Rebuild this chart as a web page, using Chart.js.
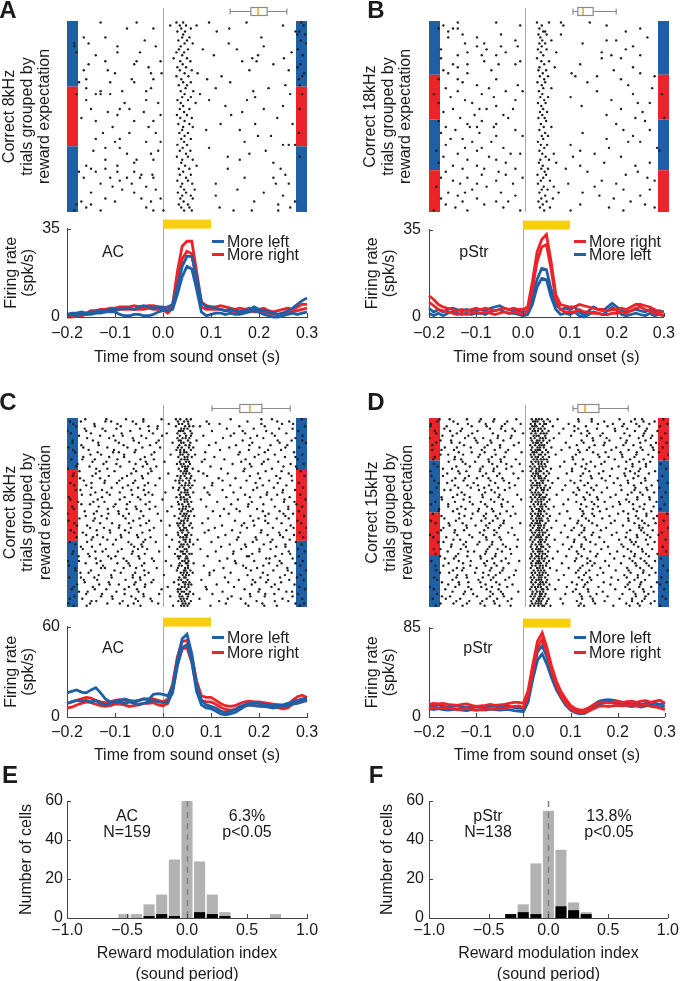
<!DOCTYPE html>
<html>
<head>
<meta charset="utf-8">
<script src="https://cdn.jsdelivr.net/npm/chart.js@4.4.0/dist/chart.umd.min.js"></script>
<style>
  body { margin: 0; background: #fff; overflow: hidden; }
  #fig { position: relative; width: 682px; height: 985px; font-family: "Liberation Sans", Arial, sans-serif; color: #1a1a1a; }
  #fig canvas { position: absolute; }
  .txt { position: absolute; font-size: 16px; line-height: 16px; white-space: nowrap; transform: translate(-50%, -50%); }
  .letter { position: absolute; font-size: 24px; line-height: 24px; font-weight: bold; transform: translate(-50%, -50%); }
  .leg { position: absolute; font-size: 16px; line-height: 16px; white-space: nowrap; transform: translateY(-50%); }
  .leg i { display: inline-block; width: 12px; height: 3px; margin-right: 3px; vertical-align: 4px; }
</style>
</head>
<body>
<div id="fig"></div>
<script>
// ---- data ----
const psthTimesMs = [-200, -190, -180, -170, -160, -150, -140, -130, -120, -110, -100, -90, -80, -70, -60, -50, -40, -30, -20, -10,
  0, 10, 20, 30, 40, 50, 60, 70, 80, 90, 100, 110, 120, 130, 140, 150, 160, 170, 180, 190,
  200, 210, 220, 230, 240, 250, 260, 270, 280, 290, 300];

// A: AC, 8kHz
const aLeftUpper = [1, 1.5, 1.5, 2, 1.5, 2, 2, 2.5, 2.5, 3, 3, 3, 3.5, 3.5, 3, 4, 4.5, 4, 3.5, 4, 3.5, 4, 5, 12, 20, 24, 24, 16, 6, 4, 4, 3.5, 3, 2.5, 3, 2.5, 2, 2.5, 3, 4, 3, 2.5, 2, 1.5, 1, 1.5, 2.5, 3.5, 5, 6.5, 7.5];
const aLeftLower = [0.5, 1, 0.5, 1, 1, 1, 1.5, 1.5, 2, 2, 2, 1, 0.5, 0.5, 1, 1, 0.5, 0.5, 1, 2, 2.5, 2.5, 3, 9, 16, 20, 19, 11, 2, 0.5, 1, 1.5, 1.5, 1, 1.5, 1, 1, 1.5, 2, 2.5, 2, 1, 0.5, 0, 0, 0.5, 1, 1.5, 1, 1.5, 2];
const aRightUpper = [0.5, 0.5, 1, 1, 1.5, 2.5, 2.5, 3, 3, 3.5, 3.5, 4, 4, 4, 4.5, 4, 4, 4.5, 4.5, 4, 4, 2.5, 5, 18, 28, 30, 30, 18, 6, 4.5, 4, 4, 4.5, 4, 3.5, 3, 3.5, 3, 3.5, 3, 3, 3.5, 2.5, 2, 2.5, 3, 3.5, 3, 4, 5, 5];
const aRightLower = [0, 0, 0.5, 0.5, 1, 1.5, 2, 2, 2, 2.5, 2.5, 3, 3, 3, 3, 3, 3, 3.5, 3, 3, 3, 1.5, 3.5, 14, 23, 26, 25, 14, 4, 3, 3, 3, 3, 2.5, 2.5, 2, 2, 2, 2.5, 2, 2, 2, 1.5, 1, 1, 1.5, 2, 2, 2.5, 3, 3.5];

// B: pStr, 18kHz
const bRightUpper = [8.5, 7, 5, 4, 3.5, 3, 2.5, 3, 2.5, 3, 3.5, 3, 3.5, 3, 2.5, 3, 3.5, 3, 3.5, 3, 3, 4, 14, 26, 31, 33, 22, 9, 5, 4.5, 4, 4, 5, 4.5, 4, 3.5, 3, 3, 2.5, 3, 3, 3.5, 3, 4, 5, 5, 4.5, 4, 3, 2, 2];
const bRightLower = [6, 4.5, 3, 2.5, 2, 1.5, 1, 1.5, 1, 1.5, 2, 1.5, 2, 1.5, 1, 1.5, 2, 1.5, 2, 1.5, 1, 2.5, 11, 22, 28, 29, 19, 7, 3, 2, 2, 2, 3, 2, 2, 1.5, 1.5, 1, 1, 1.5, 1.5, 2, 1.5, 2.5, 3.5, 4, 3, 2.5, 1.5, 1, 0.5];
const bLeftUpper = [3.5, 2, 3, 2, 3, 3.5, 3, 2.5, 3, 2.5, 3, 3, 2.5, 3.5, 4, 4.5, 3.5, 3, 3, 2.5, 2, 2.5, 8, 15, 19.5, 19, 11, 5, 3, 3.5, 3, 4, 2, 1, 2.5, 4, 3, 2.5, 4, 5.5, 4, 2.5, 2, 2.5, 3, 2.5, 2, 3, 2, 2.5, 2];
const bLeftLower = [1.5, 0.5, 1.5, 0.5, 1.5, 2, 1.5, 1, 1.5, 1, 1.5, 1.5, 1, 2, 2.5, 3, 2, 1.5, 1.5, 1, 0.5, 1, 5, 12, 15.5, 15, 8, 3, 1, 1.5, 1, 2, 0.5, 0, 1, 2, 1.5, 1, 2.5, 4, 2.5, 1, 0.5, 1, 1.5, 1, 0.5, 1.5, 0.5, 1, 0.5];

// C: AC, 8kHz
const cLeftUpper = [16, 17, 18, 16.5, 16, 18, 19.5, 16, 12, 10, 10, 11, 12, 11, 10.5, 11, 12, 11.5, 15, 15.5, 15, 14, 20, 38, 52, 55, 42, 22, 11, 8, 7, 6, 4, 3, 3.5, 5, 7, 8, 9, 9.5, 9, 8.5, 8, 7.5, 8, 8, 9, 10, 11, 12, 12.5];
const cLeftLower = [9, 10, 11, 10.5, 11, 10, 11, 9, 8, 9, 10, 10, 9, 10, 9, 8.5, 9, 10, 11, 10, 9.5, 10, 16, 34, 46, 48, 37, 17, 8, 6, 5.5, 4, 2, 1.5, 2, 3, 5, 7, 8, 7.5, 7, 7, 6.5, 6, 6.5, 7, 7.5, 8.5, 9, 10, 11];
const cRightUpper = [9, 10, 11, 12, 13, 12.5, 11, 10, 9.5, 10, 11, 11.5, 11, 10.5, 10, 11, 12, 12, 12, 11, 10, 12, 22, 40, 50, 51, 40, 24, 14, 13, 13, 11, 9, 7.5, 7, 7.5, 9, 10, 10.5, 10, 10, 9.5, 9, 8.5, 8, 7.5, 8, 11, 13.5, 14.5, 13];
const cRightLower = [6, 6.5, 8, 9, 10, 9.5, 8.5, 7.5, 7, 7.5, 8.5, 8.5, 8, 7, 7.5, 8, 9, 9, 9.5, 8, 7.5, 9, 18, 35, 45, 46, 36, 20, 11, 10, 10, 8.5, 6.5, 5, 4.5, 5, 6.5, 7.5, 8, 7.5, 7.5, 7, 7, 6.5, 6, 5.5, 6, 8.5, 10.5, 11.5, 10.5];

// D: pStr, 15kHz
const dRightUpper = [12, 13, 12.5, 13, 12, 11.5, 11, 12, 12.5, 11, 10, 10.5, 11, 12, 11, 11.5, 12, 13, 14, 14, 13, 25, 50, 72, 80, 66, 48, 34, 24, 17, 11, 8, 6.5, 7, 9, 12, 14, 14, 13.5, 14, 15, 14, 14.5, 15, 14, 15, 15.5, 14, 15, 16, 13];
const dRightLower = [7, 9, 8, 9, 8.5, 8, 7, 7.5, 8.5, 7.5, 6.5, 7, 7.5, 8, 7.5, 8, 8.5, 9.5, 10, 10.5, 9, 20, 44, 66, 74, 61, 44, 30, 20, 13, 8, 5, 4, 4.5, 6, 8, 10, 10.5, 10, 10.5, 11, 10.5, 11, 11.5, 10.5, 11, 11.5, 10, 9.5, 8.5, 7];
const dLeftUpper = [11, 10, 11.5, 10, 9.5, 10, 10.5, 9.5, 9, 10, 9.5, 10, 9.5, 10.5, 10, 9.5, 10, 10, 9, 8.5, 8, 18, 42, 62, 68, 57, 42, 30, 21, 14, 9, 6, 4.5, 5, 8, 12, 15, 16, 16.5, 16, 15, 14, 13, 12.5, 13, 12, 13, 14, 13, 12, 13.5];
const dLeftLower = [8, 7, 8, 7, 6.5, 7, 7.5, 6.5, 6, 7, 6.5, 7, 6.5, 7.5, 7, 6.5, 7, 7, 6, 5.5, 5, 14, 36, 54, 60, 50, 37, 26, 18, 11, 6.5, 4, 3, 3.5, 6, 9.5, 12, 13.5, 14, 13.5, 12.5, 11.5, 10.5, 10, 10.5, 9.5, 10.5, 11.5, 10.5, 9.5, 10.5];

// raster spike times (ms), one string per trial, top to bottom
const rasterA = [
  "-130 -55 28 42 96 174 288", "15 35 48 70 250 293", "-75 -20 38 58 138", "30 46 112 276 284", "42 280 296",
  "-165 -120 40 55 205", "-38 32 50 287", "-185 -155 45 62 137 299", "-185 -95 -15 37 210", "33 52 83 154 281",
  "-180 -95 -48 28 44 268", "-140 40 106 198 291", "22 50 186 252", "-120 -55 -5 36 57 165 195", "-155 -60 41 230 286",
  "-30 30 48 280", "-165 -115 35 60 180 262", "-100 -25 -3 45 72 294", "28 53 122 290", "-160 -65 -20 38 92 283",
  "-175 -110 -60 42 58 140", "33 50 255 285", "-160 -25 47 110 220", "-130 -85 -35 37 63 188", "-180 -140 -130 -110 45 77 265 290",
  "40 58 192", "-160 -35 30 52 96 175", "-80 -10 37 68", "42 130 250", "-150 -90 -70 35 55 210 285",
  "-115 -40 44 165", "-95 -5 29 50 142", "-170 36 60 238", "-140 -60 -20 45", "32 55 120 192 270",
  "-105 -30 42 62", "40 90 160", "-125 -70 -15 34 52 283", "45 198 225", "-140 -90 38 58",
  "-100 -35 -5 44 170", "30 50 250 262 275", "-120 -90 41 96", "-145 -10 35 57 214", "-75 -25 48 180",
  "29 52 135 285", "-120 -55 -20 40 62 160", "-60 38 230", "-160 -95 46 70", "-150 -120 33 55 135 245",
  "-175 -140 -95 -60 42", "-45 -22 35 58 255", "-165 -110 -75 -48 -20 48 170 230", "-90 30 52", "-130 -65 40 61 110 235 262",
  "-105 -35 37", "-85 -15 44 66 155", "-150 -60 31 48 210", "40 58 110 250", "-120 -45 -5 36 62",
  "-170 -100 -25 43 190 275", "-180 -150 33 52 240", "-160 -35 38 55 118 265", "-185 -130 -20 1 44 60 147 185 240"
];
const rasterB = [
  "-140 -60 25 50 75 135", "-170 -10 35 80 170", "-180 -150 -140 30 240", "-160 38 42 210", "-130 -50 28 45 75",
  "-160 -100 32 255", "-20 36 55 170 190", "-125 -85 30 42 120", "-100 -50 -15 35 225", "-175 -80 27 45 210",
  "-120 -40 33 65 160", "-140 -90 -60 38 180 240", "-175 25 160 200", "-85 -10 34 50", "-150 -120 -55 -20 40 115",
  "-140 30 62 225", "-170 -70 28 44 185", "-160 -120 37 97 240", "31 48 105 150 270", "-180 -140 -60 40 200",
  "-130 26 42 130", "-100 -15 35 215", "-165 -75 38 55 265", "-140 -40 -5 29 150", "-190 -90 36 225 285",
  "-155 -65 32 48 95", "-125 -20 40 180", "-180 -110 27 43 235 260", "-60 34 118", "-150 -95 -80 -25 38 200",
  "-170 31 46 245", "-105 -45 36 170", "-135 -35 28 41 230 290", "-180 -90 44 250", "-120 -60 33 190",
  "-165 -115 -100 -65 39 55", "-145 -20 30 205 260", "-175 -95 42 120", "-60 -5 35 48 225", "-155 -130 38 170",
  "-110 -70 27 215 240", "-165 33 46 95", "-125 -90 -45 40 175 275", "-185 -100 30 115 280", "-140 -30 -10 36 60 145",
  "-170 -75 43 100 200", "-120 -60 32 50", "-180 -40 29 65 165 260", "-150 -100 37 115 230", "-130 -85 -20 34 48 85",
  "-165 -55 41 130 235", "-90 -40 26 44 210", "-175 -120 -5 38 255", "-150 -60 33 52 160 270", "-135 -100 -25 27 90 190",
  "-185 -80 39 60 145", "-110 35 47 205 260", "-160 -125 -50 30 70 120", "-140 -20 42 155 240", "-175 -100 34 58 185",
  "-130 -60 -35 28 45 220", "-165 -85 37 115 250", "-145 -45 31 52 175 270", "-190 -120 -10 40 95 205"
];
const rasterC = [
  "-162 -118 -77 -41 -3 27 36 49 58 141 205 227 289", "-194 -171 -120 -108 -63 -41 31 44 52 91 176 238 263",
  "-187 -143 -95 -56 12 33 40 53 96 118 205 248 271", "-181 -142 -88 -30 -11 27 46 55 63 77 159 212 296",
  "-163 -126 -97 -48 -12 38 44 51 133 189 242 270", "-199 -160 -120 -68 -29 33 37 42 57 102 166 215 282",
  "-192 -150 -86 -21 8 30 45 60 148 171 227 257", "-175 -131 -103 -84 -45 -2 35 48 58 84 141 196 233 291",
  "-158 -112 -63 -35 30 41 47 55 125 182 209 276", "-188 -146 -99 -61 -9 33 37 52 70 166 239 268 290",
  "-189 -135 -92 -50 -14 20 38 43 57 110 186 243 298", "-170 -134 -82 -27 34 47 55 96 152 180 224 259",
  "-197 -166 -116 -74 -43 -6 31 39 54 63 138 201 255 284", "-187 -155 -102 -57 28 36 44 58 119 179 219 246",
  "-183 -136 -104 -92 -59 -18 36 44 49 88 160 212 273", "-151 -129 -81 -24 16 36 41 53 67 157 199 233 290",
  "-166 -112 -81 -38 32 45 51 60 107 191 254 276", "-191 -168 -142 -95 -47 -19 38 45 51 87 128 172 219 281",
  "-147 -118 -70 -36 3 35 48 54 81 163 210 240", "-178 -124 -97 -57 -33 29 37 43 56 145 181 206 266 293",
  "-181 -153 -89 -42 -14 40 46 52 99 184 251 277", "-198 -139 -116 -61 -26 33 46 50 62 121 170 227 279",
  "-174 -132 -101 -56 -24 37 45 50 74 168 214 247 287", "-186 -140 -66 -31 11 42 48 55 84 135 198 262",
  "-188 -147 -113 -75 -44 30 37 45 59 92 181 236 268 295", "-173 -131 -85 -42 -7 36 49 57 116 151 202 244",
  "-165 -121 -91 -58 26 34 41 54 66 124 174 221 269", "-193 -149 -122 -96 -62 -31 34 47 55 103 193 239 283",
  "-185 -160 -73 -38 -16 39 46 53 61 102 140 208 257", "-149 -107 -84 -52 21 34 44 57 86 162 196 231 292",
  "-182 -172 -127 -66 -40 32 46 51 124 188 250 275", "-141 -117 -90 -30 5 38 45 51 63 93 147 217 249",
  "-169 -151 -111 -64 -37 -22 35 48 53 97 171 216 238 286", "-196 -127 -80 -52 28 37 43 56 132 181 203 264",
  "-193 -136 -90 -47 -1 37 45 50 79 156 226 253 297", "-177 -145 -122 -69 -28 31 45 51 59 113 185 252 274",
  "-170 -152 -99 -75 -36 33 40 53 142 178 209 278", "-189 -134 -103 -57 -16 18 42 48 55 90 177 233 261 290",
  "-186 -115 -76 -55 -28 34 41 47 62 127 153 196 261", "-163 -138 -93 -46 9 39 52 58 104 160 208 243 283",
  "-199 -144 -114 -92 -71 -11 36 44 49 137 220 251 271", "-161 -128 -83 -41 24 41 47 54 65 119 182 213 255 294",
  "-174 -142 -117 -78 -49 33 46 52 94 199 237 262", "-197 -145 -62 -29 -4 38 43 51 150 188 213 280",
  "-185 -131 -106 -71 -35 30 36 44 58 82 169 219 247 288", "-179 -158 -91 -47 14 32 42 55 123 164 190 266",
  "-152 -123 -92 -67 -19 35 44 48 61 108 175 229 272 299", "-192 -138 -111 -79 -28 37 42 50 95 144 205 257",
  "-185 -167 -110 -71 -43 31 40 53 87 161 204 242 285", "-160 -137 -88 -54 7 32 46 50 59 130 218 244 273",
  "-180 -146 -125 -87 -52 -26 36 42 49 115 157 193 250 292", "-149 -116 -98 -37 19 43 47 56 72 154 195 228 264",
  "-194 -158 -72 -41 -15 34 47 56 101 187 224 277", "-183 -131 -104 -66 -45 38 43 51 63 139 171 210 255 289",
  "-171 -148 -60 -43 13 35 41 54 121 173 236 255", "-167 -119 -86 -52 -33 30 45 49 78 163 201 224 281",
  "-187 -141 -126 -94 -63 -8 37 41 50 110 147 201 262 295", "-189 -156 -65 -38 25 42 46 55 60 146 186 248 265",
  "-176 -153 -114 -99 -51 31 36 49 93 175 179 234 283", "-140 -108 -82 -49 -23 33 47 51 134 215 222 270",
  "-198 -175 -130 -76 -19 6 40 45 53 118 150 190 243 291", "-161 -138 -95 -72 -39 35 48 51 64 152 221 247 276",
  "-196 -125 -69 -44 17 33 39 52 85 167 209 238 286", "-183 -129 -121 -82 -56 -13 31 46 52 126 173 196 259",
  "-182 -150 -101 -39 29 44 47 57 106 183 230 260 298", "-172 -155 -88 -58 -30 37 43 50 62 97 141 208 268",
  "-134 -108 -63 -38 2 41 48 54 97 176 218 254 287", "-195 -171 -143 -107 -63 -48 34 44 47 129 203 244 279",
  "-165 -137 -78 -47 -20 32 38 51 80 158 187 219 263 293", "-163 -113 -57 -24 23 42 47 55 136 192 215 246",
  "-179 -133 -111 -92 -60 -37 33 46 53 59 112 185 233 274", "-186 -146 -71 -38 10 39 45 53 89 148 226 284",
  "-190 -142 -118 -80 -54 -3 31 36 49 91 170 201 241 296", "-175 -157 -97 -51 31 39 44 56 124 199 257 269",
  "-160 -127 -80 -41 -8 35 48 53 63 103 181 213 232 281", "-184 -129 -106 -66 -40 15 34 40 52 143 182 212 270",
  "-194 -168 -105 -57 -26 37 43 50 76 135 162 249 290", "-149 -139 -84 -52 -23 32 39 45 58 117 195 233 261",
  "-197 -152 -116 -90 -61 -10 41 47 54 131 172 207 276 294", "-186 -159 -73 -47 21 38 44 51 99 178 211 237 285"
];
const rasterD = [
  "-178 -157 -121 -92 -64 -18 14 23 29 35 47 68 111 139 197 229 244 288", "-183 -149 -95 -66 -37 17 21 26 39 52 112 139 165 221 247 270",
  "-196 -140 -119 -82 -42 -9 12 21 31 40 44 91 152 183 206 232 259 297", "-197 -163 -111 -80 -48 15 20 24 37 58 103 127 172 203 238 281",
  "-168 -131 -73 -50 -26 11 19 28 33 41 80 111 150 187 213 254", "-188 -156 -134 -99 -41 -21 16 21 27 36 49 103 130 188 229 251 276",
  "-185 -142 -110 -67 -4 13 22 33 39 45 71 117 134 162 207 248 292", "-172 -151 -118 -56 -28 18 24 29 42 96 129 157 218 246 265",
  "-199 -125 -105 -87 -57 -30 12 20 32 37 43 60 141 170 199 237 262 284", "-176 -154 -102 -72 -45 14 25 30 38 51 118 142 176 212 251",
  "-185 -153 -136 -99 -70 -13 17 23 27 34 46 85 122 166 210 240 273 295", "-193 -127 -78 -52 -23 11 21 30 35 40 108 145 164 205 226 262",
  "-167 -142 -113 -84 -52 15 26 31 39 55 93 134 190 241 266 287", "-193 -174 -148 -90 -63 -35 13 22 27 31 44 76 111 129 180 216 245 268",
  "-138 -111 -84 -40 -7 16 19 24 36 48 114 142 168 199 233 279", "-176 -160 -129 -94 -61 12 19 29 33 42 64 106 152 202 232 257 299",
  "-188 -146 -97 -69 -43 14 22 27 37 50 99 155 174 203 228 266", "-191 -147 -133 -76 -51 -19 18 25 33 39 45 100 121 187 219 247 290",
  "-159 -130 -104 -75 -50 13 22 28 35 47 82 137 166 211 238 261", "-190 -124 -68 -39 -11 16 28 34 41 105 128 159 224 252 283",
  "-182 -143 -115 -88 -58 -28 11 20 30 36 43 73 118 146 195 224 252", "-171 -152 -93 -65 -39 15 24 29 38 54 98 126 181 210 240 294",
  "-197 -139 -122 -94 -66 -5 12 23 30 33 46 98 134 163 219 237 271", "-162 -136 -81 -53 -24 17 23 27 39 50 87 121 154 207 229 258",
  "-195 -171 -117 -88 -58 14 21 28 32 44 116 137 177 209 236 286", "-145 -125 -100 -76 -47 -14 19 29 34 41 69 139 160 193 226 250",
  "-189 -152 -128 -72 -44 12 22 34 38 48 95 116 168 214 251 277", "-180 -162 -107 -62 -33 16 25 30 37 57 103 131 185 215 242 297",
  "-146 -120 -98 -75 -21 13 20 25 31 43 84 124 149 199 227 264", "-184 -139 -113 -85 -56 -32 15 26 33 40 52 110 138 171 230 253 280",
  "-168 -155 -96 -70 -42 11 23 35 39 47 78 113 143 201 228 255", "-198 -194 -132 -83 -63 14 21 28 38 101 129 160 222 240 269 293",
  "-141 -126 -89 -53 -16 17 24 30 33 45 66 107 135 189 214 245", "-174 -150 -115 -88 -55 12 21 30 37 42 122 150 178 234 259 285",
  "-173 -128 -71 -46 -8 15 26 33 39 51 90 125 152 211 234 260", "-187 -146 -115 -92 -64 -36 13 22 28 34 46 107 139 166 196 217 274",
  "-196 -160 -109 -83 -49 18 27 34 41 80 117 144 198 225 249 291", "-160 -133 -79 -48 -25 11 20 32 36 44 60 128 152 183 239 268",
  "-179 -141 -124 -96 -69 14 24 29 36 49 115 141 170 226 247 282", "-180 -150 -98 -66 -38 16 29 33 40 88 120 156 205 233 263",
  "-192 -137 -109 -81 -52 -20 12 21 27 33 45 72 122 140 194 215 253 296", "-174 -126 -86 -61 -30 15 26 30 38 52 119 144 176 231 253 275",
  "-168 -137 -112 -82 -57 13 23 29 34 47 94 127 161 215 236 268", "-196 -144 -91 -67 -44 17 25 31 36 49 65 111 133 187 216 244 289",
  "-186 -159 -130 -74 -45 -10 14 22 26 31 43 109 140 179 228 249 272", "-157 -122 -103 -81 -51 11 19 28 33 40 83 118 150 204 238 257",
  "-170 -121 -77 -54 -27 16 27 31 39 55 102 124 169 238 245 298", "-175 -146 -127 -85 -64 12 24 29 35 46 97 123 158 219 242 266",
  "-182 -147 -94 -59 -35 15 21 30 37 42 75 118 142 191 212 248 285", "-198 -141 -116 -87 -64 -22 18 26 30 37 50 113 139 181 233 255 278",
  "-191 -164 -110 -81 -53 13 23 28 33 45 89 124 155 210 234 261", "-149 -135 -80 -50 -15 11 20 31 36 44 62 103 127 196 219 252 293",
  "-181 -170 -123 -95 -68 16 28 33 41 102 136 165 222 231 270", "-153 -128 -99 -69 -46 14 22 30 34 47 79 118 147 201 227 256",
  "-154 -123 -74 -40 -17 12 25 34 38 51 97 117 173 205 236 287", "-190 -176 -134 -78 -57 -31 15 23 28 32 43 92 123 159 214 244 265",
  "-161 -119 -106 -81 -48 17 27 31 36 48 68 108 136 192 221 245 294", "-186 -139 -83 -61 -29 13 21 30 37 42 111 151 177 229 252 276",
  "-177 -144 -120 -93 -62 14 24 28 35 46 86 118 148 206 228 258", "-167 -148 -92 -68 -40 11 20 29 35 41 58 107 130 186 218 241 283",
  "-195 -138 -113 -79 -49 -12 16 26 30 39 50 104 136 167 224 249 271", "-159 -129 -85 -64 -34 13 23 28 33 45 77 130 145 200 230 253",
  "-187 -170 -114 -82 -59 15 22 31 37 44 120 140 175 232 258 288", "-142 -128 -101 -70 -45 12 25 30 37 52 91 115 157 213 240 264",
  "-185 -150 -131 -73 -47 -19 18 27 33 40 66 111 134 189 216 247 297", "-177 -158 -104 -87 -52 14 21 30 37 43 106 127 163 220 246 272",
  "-141 -122 -76 -61 -23 16 26 31 36 48 81 123 151 207 235 259", "-189 -143 -121 -88 -66 -33 12 19 29 34 42 112 135 180 212 235 284",
  "-183 -151 -97 -71 -41 15 24 29 34 46 70 119 138 194 228 250", "-173 -138 -118 -93 -60 13 22 32 37 44 98 130 164 218 242 275 295",
  "-160 -137 -82 -53 -26 17 28 32 39 51 108 125 178 214 240 281", "-199 -145 -118 -91 -69 -37 14 21 27 33 45 87 122 153 209 238 263",
  "-190 -166 -112 -80 -55 11 23 35 38 47 63 106 131 188 218 246 290", "-151 -125 -72 -50 -14 16 25 31 38 100 132 162 226 248 268",
  "-183 -128 -108 -67 -46 15 22 31 35 43 84 114 149 203 230 257", "-173 -156 -100 -73 -44 12 20 30 33 41 118 136 172 231 251 286",
  "-192 -165 -135 -80 -58 -28 17 27 30 37 49 74 119 141 197 223 249 293", "-143 -116 -89 -65 -36 13 24 29 34 46 108 142 166 223 244 270",
  "-176 -149 -121 -93 -63 15 22 28 33 44 79 116 146 211 235 262", "-186 -130 -84 -53 -30 11 19 28 36 40 53 112 123 184 218 239 282"
];

// trial groups (number of trials per block, top to bottom)
const groupsA = [22, 20, 22];
const groupsB = [18, 15, 17, 14];
const groupsC = [22, 30, 28];
const groupsD = [18, 22, 18, 22];

// boxplots above rasters (s): whisker low, q1, median, q3, whisker high
const boxA = [0.14, 0.183, 0.198, 0.217, 0.258];
const boxB = [0.10, 0.11, 0.121, 0.142, 0.19];
const boxC = [0.102, 0.16, 0.181, 0.206, 0.265];
const boxD = [0.10, 0.11, 0.125, 0.154, 0.215];

// histograms (19 bins over -1..1)
const histBinCenters = [-0.947, -0.842, -0.737, -0.632, -0.526, -0.421, -0.316, -0.211, -0.105, 0, 0.105, 0.211, 0.316, 0.421, 0.526, 0.632, 0.737, 0.842, 0.947];
const histAcAll = [0, 0, 0, 0, 2, 2, 7, 12, 30, 60, 29, 12, 3, 0, 0, 0, 2, 0, 0];
const histAcSig = [0, 0, 0, 0, 0, 0, 1, 2, 1, 0, 3, 2, 1, 0, 0, 0, 0, 0, 0];
const histStrAll = [0, 0, 0, 0, 0, 0, 2, 7, 28, 55, 35, 8, 3, 0, 0, 0, 0, 0, 0];
const histStrSig = [0, 0, 0, 0, 0, 0, 2, 3, 2, 0, 6, 4, 2, 0, 0, 0, 0, 0, 0];

// ---- styles ----
const BLUE = '#1f5fa6';
const RED = '#ec2328';
const YELLOW = '#f8cf0c';
const AXIS = '#444';
const GREYLINE = '#a8a8a8';

Chart.defaults.font.family = '"Liberation Sans", Arial, sans-serif';
Chart.defaults.font.size = 16;
Chart.defaults.color = '#1a1a1a';

const fig = document.getElementById('fig');

function mkCanvas(l, t, w, h) {
  const c = document.createElement('canvas');
  c.width = w; c.height = h;
  c.style.left = l + 'px'; c.style.top = t + 'px';
  c.style.width = w + 'px'; c.style.height = h + 'px';
  fig.appendChild(c);
  return c;
}

function addText(cls, html, x, y) {
  const d = document.createElement('div');
  d.className = cls;
  d.innerHTML = html;
  d.style.left = x + 'px'; d.style.top = y + 'px';
  fig.appendChild(d);
}

function addLegend(x, y, color, label) {
  addText('leg', '<i style="background:' + color + '"></i>' + label, x, y);
}

const fmt1 = v => (Math.round(v * 10) / 10).toFixed(1).replace('-', '\u2212');

// inward tick marks on both axes
const inTicks = {
  id: 'inTicks',
  afterDraw(chart) {
    const { ctx, chartArea: a, scales: { x, y } } = chart;
    ctx.save();
    ctx.strokeStyle = AXIS; ctx.lineWidth = 1;
    ctx.beginPath();
    x.ticks.forEach(t => {
      const px = Math.round(x.getPixelForValue(t.value)) + 0.5;
      ctx.moveTo(px, a.bottom); ctx.lineTo(px, a.bottom - 4);
    });
    y.ticks.forEach(t => {
      const py = Math.round(y.getPixelForValue(t.value)) + 0.5;
      ctx.moveTo(a.left, py); ctx.lineTo(a.left + 4, py);
    });
    ctx.stroke();
    ctx.restore();
  }
};

// colour blocks, onset line and boxplot for rasters
const rasterDecor = {
  id: 'rasterDecor',
  beforeDatasetsDraw(chart, args, o) {
    const { ctx, chartArea: a, scales: { x, y } } = chart;
    ctx.save();
    const x0 = Math.round(x.getPixelForValue(0)) + 0.5;
    ctx.strokeStyle = GREYLINE; ctx.lineWidth = 1;
    ctx.beginPath(); ctx.moveTo(x0, a.top - 13); ctx.lineTo(x0, a.bottom); ctx.stroke();
    let start = 0;
    o.groups.forEach((n, i) => {
      const y0 = y.getPixelForValue(start), y1 = y.getPixelForValue(start + n);
      ctx.fillStyle = o.colors[i];
      ctx.fillRect(a.left, y0, 11, y1 - y0);
      ctx.fillRect(a.right - 11, y0, 11, y1 - y0);
      start += n;
    });
    ctx.restore();
  },
  afterDraw(chart, args, o) {
    const { ctx, chartArea: a, scales: { x } } = chart;
    const b = o.box.map(v => x.getPixelForValue(v));
    const yc = a.top - 9.5;
    ctx.save();
    ctx.strokeStyle = '#8a8a8a'; ctx.lineWidth = 1.2;
    ctx.beginPath();
    ctx.moveTo(b[0], yc); ctx.lineTo(b[1], yc);
    ctx.moveTo(b[3], yc); ctx.lineTo(b[4], yc);
    ctx.moveTo(b[0], yc - 3); ctx.lineTo(b[0], yc + 3);
    ctx.moveTo(b[4], yc - 3); ctx.lineTo(b[4], yc + 3);
    ctx.stroke();
    ctx.fillStyle = '#fff';
    ctx.fillRect(b[1], yc - 4, b[3] - b[1], 8);
    ctx.strokeRect(b[1], yc - 4, b[3] - b[1], 8);
    ctx.strokeStyle = '#f0a020'; ctx.lineWidth = 1.5;
    ctx.beginPath(); ctx.moveTo(b[2], yc - 3.5); ctx.lineTo(b[2], yc + 3.5); ctx.stroke();
    ctx.restore();
  }
};

// sound bar and onset line for PSTHs
const psthDecor = {
  id: 'psthDecor',
  beforeDatasetsDraw(chart) {
    const { ctx, chartArea: a, scales: { x } } = chart;
    const x0 = Math.round(x.getPixelForValue(0)) + 0.5;
    ctx.save();
    ctx.strokeStyle = GREYLINE; ctx.lineWidth = 1;
    ctx.beginPath(); ctx.moveTo(x0, a.top - 9); ctx.lineTo(x0, a.bottom); ctx.stroke();
    ctx.fillStyle = YELLOW;
    ctx.fillRect(x.getPixelForValue(0), a.top - 9, x.getPixelForValue(0.1) - x.getPixelForValue(0), 9);
    ctx.restore();
  }
};

// dashed zero line for histograms
const zeroDash = {
  id: 'zeroDash',
  afterDatasetsDraw(chart) {
    const { ctx, chartArea: a, scales: { x } } = chart;
    const x0 = Math.round(x.getPixelForValue(0)) + 0.5;
    ctx.save();
    ctx.strokeStyle = '#808080'; ctx.lineWidth = 1.5; ctx.setLineDash([6, 5]);
    ctx.beginPath(); ctx.moveTo(x0, a.top); ctx.lineTo(x0, a.bottom); ctx.stroke();
    ctx.restore();
  }
};

function raster(cv, rows, groups, colors, box, title, o) {
  const pts = [];
  rows.forEach((r, i) => r.split(' ').forEach(t => pts.push({ x: +t / 1000, y: i + 0.5 })));
  new Chart(cv, {
    type: 'scatter',
    data: { datasets: [{ data: pts, pointRadius: 1.2, pointBorderWidth: 0, pointBackgroundColor: '#1e1e1e' }] },
    options: {
      responsive: false, animation: false, events: [],
      layout: { padding: { top: o.padTop, right: o.padRight, bottom: o.padBottom, left: 0 } },
      plugins: { legend: { display: false }, tooltip: { enabled: false }, rasterDecor: { groups, colors, box } },
      scales: {
        x: { type: 'linear', min: -0.2, max: 0.3, display: false },
        y: {
          type: 'linear', min: 0, max: rows.length, reverse: true,
          ticks: { display: false }, grid: { display: false, drawTicks: false }, border: { display: false },
          title: { display: true, text: title, font: { size: 16, lineHeight: 1.1 }, padding: { top: o.titlePad, bottom: 0 } },
          afterFit: s => { s.width = o.axisW; }
        }
      }
    },
    plugins: [rasterDecor]
  });
}

function psth(cv, lines, ymax, o) {
  new Chart(cv, {
    type: 'line',
    data: {
      datasets: lines.map(l => ({
        data: psthTimesMs.map((t, i) => ({ x: t / 1000, y: l.values[i] })),
        borderColor: l.color, borderWidth: 2.8, pointRadius: 0, tension: 0, fill: false, clip: false
      }))
    },
    options: {
      responsive: false, animation: false, events: [],
      layout: { padding: { top: o.padTop, right: o.padRight, bottom: 0, left: 0 } },
      plugins: { legend: { display: false }, tooltip: { enabled: false } },
      scales: {
        x: {
          type: 'linear', min: -0.2, max: 0.3,
          ticks: { stepSize: 0.1, padding: o.xTickPad, maxRotation: 0, callback: fmt1 },
          grid: { display: false, drawTicks: false }, border: { color: AXIS },
          title: { display: true, text: 'Time from sound onset (s)', padding: { top: 0, bottom: o.xTitlePad } },
          afterFit: s => { s.height = o.xAxisH; }
        },
        y: {
          type: 'linear', min: 0, max: ymax,
          afterBuildTicks: s => { s.ticks = [{ value: 0 }, { value: ymax }]; },
          ticks: { padding: o.yTickPad },
          grid: { display: false, drawTicks: false }, border: { color: AXIS },
          title: { display: true, text: ['Firing rate', '(spk/s)'], font: { size: 16, lineHeight: 1.05 }, padding: { top: o.yTitlePad, bottom: 0 } },
          afterFit: s => { s.width = o.axisW; }
        }
      }
    },
    plugins: [psthDecor, inTicks]
  });
}

function hist(cv, all, sig, o) {
  new Chart(cv, {
    type: 'bar',
    data: {
      datasets: [
        { data: histBinCenters.map((c, i) => ({ x: c, y: sig[i] })), backgroundColor: '#000' },
        { data: histBinCenters.map((c, i) => ({ x: c, y: all[i] })), backgroundColor: '#b2b2b2' }
      ]
    },
    options: {
      responsive: false, animation: false, events: [],
      datasets: { bar: { grouped: false, barPercentage: 0.88, categoryPercentage: 1 } },
      layout: { padding: { top: o.padTop, right: o.padRight, bottom: 0, left: 0 } },
      plugins: { legend: { display: false }, tooltip: { enabled: false } },
      scales: {
        x: {
          type: 'linear', min: -1, max: 1, offset: false,
          ticks: { stepSize: 0.5, padding: o.xTickPad, maxRotation: 0, callback: fmt1 },
          grid: { display: false, drawTicks: false, offset: false }, border: { color: AXIS },
          title: { display: true, text: ['Reward modulation index', '(sound period)'], font: { size: 16, lineHeight: 1.3 }, padding: { top: 0, bottom: o.xTitlePad } },
          afterFit: s => { s.height = o.xAxisH; }
        },
        y: {
          type: 'linear', min: 0, max: 60,
          ticks: { stepSize: 10, padding: o.yTickPad },
          grid: { display: false, drawTicks: false }, border: { color: AXIS },
          title: { display: true, text: 'Number of cells', padding: { top: o.yTitlePad, bottom: 0 } },
          afterFit: s => { s.width = o.axisW; }
        }
      }
    },
    plugins: [zeroDash, inTicks]
  });
}

// ---- panel A ----
raster(mkCanvas(0, 0, 341, 216), rasterA, groupsA, [BLUE, RED, BLUE], boxA,
  ['Correct 8kHz', 'trials grouped by', 'reward expectation'],
  { padTop: 21, padRight: 34, padBottom: 3, axisW: 67, titlePad: 1 });
psth(mkCanvas(0, 212, 341, 160), [
  { color: BLUE, values: aLeftUpper }, { color: BLUE, values: aLeftLower },
  { color: RED, values: aRightUpper }, { color: RED, values: aRightLower }
], 35, { padTop: 15, padRight: 34, axisW: 67, xAxisH: 55, xTickPad: 7, xTitlePad: 5, yTickPad: 7, yTitlePad: 3.5 });

// ---- panel B ----
raster(mkCanvas(341, 0, 341, 216), rasterB, groupsB, [BLUE, RED, BLUE, RED], boxB,
  ['Correct 18kHz', 'trials grouped by', 'reward expectation'],
  { padTop: 21, padRight: 13, padBottom: 3, axisW: 88, titlePad: 21 });
psth(mkCanvas(341, 212, 341, 160), [
  { color: RED, values: bRightUpper }, { color: RED, values: bRightLower },
  { color: BLUE, values: bLeftUpper }, { color: BLUE, values: bLeftLower }
], 35, { padTop: 15, padRight: 13, axisW: 88, xAxisH: 55, xTickPad: 7, xTitlePad: 5, yTickPad: 8, yTitlePad: 23.5 });

// ---- panel C ----
raster(mkCanvas(0, 395, 341, 216), rasterC, groupsC, [BLUE, RED, BLUE], boxC,
  ['Correct 8kHz', 'trials grouped by', 'reward expectation'],
  { padTop: 23, padRight: 34, padBottom: 2, axisW: 67, titlePad: 1.5 });
psth(mkCanvas(0, 610, 341, 160), [
  { color: BLUE, values: cLeftUpper }, { color: BLUE, values: cLeftLower },
  { color: RED, values: cRightUpper }, { color: RED, values: cRightLower }
], 60, { padTop: 15, padRight: 34, axisW: 67, xAxisH: 53, xTickPad: 6, xTitlePad: 5, yTickPad: 7, yTitlePad: 3.5 });

// ---- panel D ----
raster(mkCanvas(341, 395, 341, 216), rasterD, groupsD, [RED, BLUE, RED, BLUE], boxD,
  ['Correct 15kHz', 'trials grouped by', 'reward expectation'],
  { padTop: 23, padRight: 13, padBottom: 2, axisW: 88, titlePad: 23 });
psth(mkCanvas(341, 610, 341, 160), [
  { color: RED, values: dRightUpper }, { color: RED, values: dRightLower },
  { color: BLUE, values: dLeftUpper }, { color: BLUE, values: dLeftLower }
], 85, { padTop: 15, padRight: 13, axisW: 88, xAxisH: 53, xTickPad: 6, xTitlePad: 5, yTickPad: 8, yTitlePad: 23.5 });

// ---- panels E, F ----
hist(mkCanvas(0, 785, 341, 200), histAcAll, histAcSig,
  { padTop: 16, padRight: 34, axisW: 67, xAxisH: 67, xTickPad: 3, xTitlePad: 0.5, yTickPad: 4, yTitlePad: 17 });
hist(mkCanvas(341, 785, 341, 200), histStrAll, histStrSig,
  { padTop: 16, padRight: 13, axisW: 88, xAxisH: 67, xTickPad: 3, xTitlePad: 0.5, yTickPad: 5, yTitlePad: 37 });

// ---- text ----
addText('letter', 'A', 8, 10); addText('letter', 'B', 376, 10);
addText('letter', 'C', 8, 402); addText('letter', 'D', 376, 402);
addText('letter', 'E', 10, 775); addText('letter', 'F', 376, 775);

addText('txt', 'AC', 113, 252); addText('txt', 'pStr', 474, 252);
addText('txt', 'AC', 113, 648); addText('txt', 'pStr', 478, 648);
addLegend(212, 242, BLUE, 'More left'); addLegend(212, 255, RED, 'More right');
addLegend(574, 242, RED, 'More right'); addLegend(574, 255, BLUE, 'More left');
addLegend(212, 638, BLUE, 'More left'); addLegend(212, 653, RED, 'More right');
addLegend(574, 638, BLUE, 'More left'); addLegend(574, 653, RED, 'More right');

addText('txt', 'AC', 127, 816); addText('txt', 'N=159', 127, 832);
addText('txt', '6.3%', 247, 816); addText('txt', 'p&lt;0.05', 247, 832);
addText('txt', 'pStr', 488, 816); addText('txt', 'N=138', 488, 832);
addText('txt', '13.8%', 609, 816); addText('txt', 'p&lt;0.05', 609, 832);
</script>
</body>
</html>
